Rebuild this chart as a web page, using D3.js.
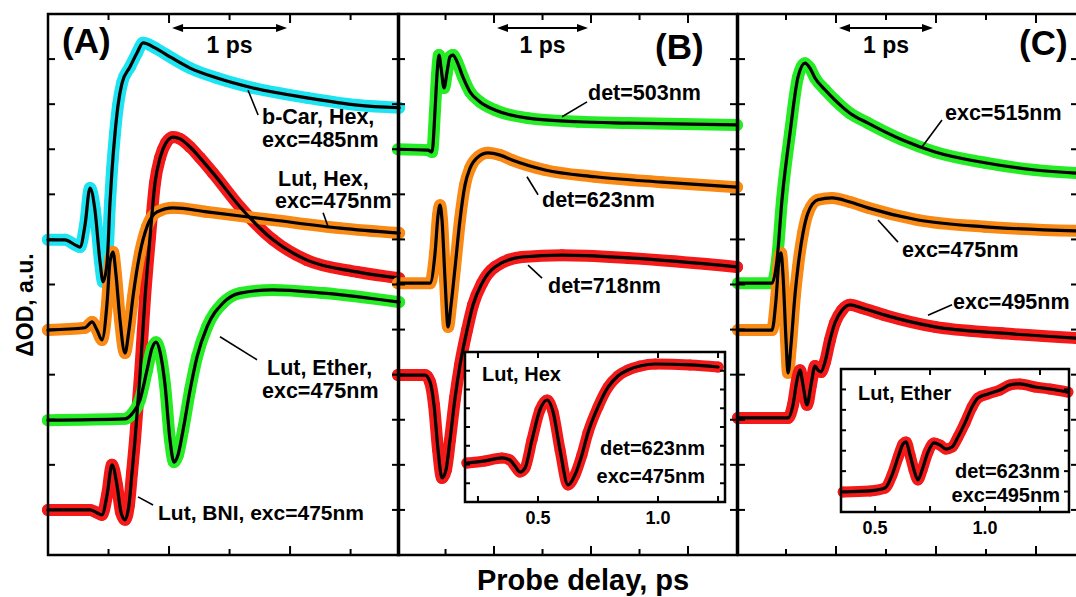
<!DOCTYPE html>
<html><head><meta charset="utf-8">
<script src="https://cdn.jsdelivr.net/npm/d3@7"></script>
<style>
body{margin:0;background:#fff;}
svg{display:block;font-family:"Liberation Sans",Arial,sans-serif;font-weight:bold;}
</style></head><body>
<svg id="chart" width="1076" height="597"></svg>
<script>
// ---------- Panel A (probe delay, ps ; ΔOD offset a.u.) ----------
const aCarT = [-1.0,-0.86,-0.777,-0.736,-0.694,-0.653,-0.612,-0.570,-0.545,-0.512,-0.488,-0.471,-0.446,-0.421,-0.388,-0.322,-0.264,-0.215,-0.116,-0.017,0.174,0.397,0.694,1.140,1.554,1.901];
const aCarY = [6.99,6.99,6.88,6.83,7.32,8.14,7.65,6.50,6.06,6.48,7.81,8.54,9.36,9.98,10.47,10.83,11.14,11.36,11.25,11.09,10.80,10.58,10.36,10.14,9.98,9.92];
const aBniT = [-1.0,-0.653,-0.603,-0.554,-0.512,-0.471,-0.430,-0.397,-0.364,-0.331,-0.306,-0.281,-0.240,-0.198,-0.157,-0.116,-0.074,-0.025,0.033,0.091,0.174,0.256,0.364,0.587,0.860,1.140,1.554,1.901];
const aBniY = [1.00,1.00,0.95,0.89,1.33,2.00,1.55,0.95,0.78,1.11,1.82,2.55,3.99,5.72,7.05,8.25,8.81,9.14,9.27,9.23,9.05,8.81,8.47,7.72,6.99,6.54,6.28,6.14];
const aHexT = [-1.0,-0.694,-0.636,-0.595,-0.554,-0.512,-0.488,-0.463,-0.438,-0.405,-0.364,-0.331,-0.298,-0.240,-0.182,-0.099,0.033,0.314,0.860,1.413,1.901];
const aHexY = [4.99,5.04,5.17,4.99,4.77,5.59,6.50,6.72,6.21,5.21,4.48,4.99,5.72,6.70,7.28,7.61,7.70,7.61,7.43,7.25,7.14];
const aEthT = [-1.0,-0.364,-0.306,-0.240,-0.182,-0.140,-0.107,-0.074,-0.033,0.008,0.041,0.074,0.116,0.174,0.231,0.314,0.446,0.587,0.860,1.273,1.901];
const aEthY = [2.99,3.02,3.13,3.44,4.10,4.59,4.72,4.50,3.77,2.55,2.06,2.22,2.77,3.66,4.39,5.06,5.59,5.81,5.88,5.81,5.61];

// ---------- Panel B ----------
const b503T = [-0.990,-0.680,-0.639,-0.608,-0.588,-0.567,-0.546,-0.515,-0.485,-0.454,-0.423,-0.381,-0.320,-0.247,-0.144,0.010,0.351,0.866,1.381,2.505];
const b503Y = [9.00,8.98,8.94,9.87,10.65,11.09,10.80,10.36,10.71,11.05,11.09,10.94,10.60,10.27,10.05,9.87,9.69,9.61,9.58,9.54];
const b623T = [-0.990,-0.660,-0.608,-0.577,-0.557,-0.536,-0.505,-0.474,-0.443,-0.402,-0.351,-0.299,-0.247,-0.165,-0.062,0.062,0.186,0.526,1.041,1.732,2.505];
const b623Y = [6.03,6.03,6.70,7.54,7.76,7.43,6.10,5.06,5.55,6.37,7.43,8.21,8.58,8.83,8.92,8.87,8.76,8.54,8.39,8.27,8.16];
const b718T = [-0.990,-0.711,-0.660,-0.619,-0.577,-0.536,-0.495,-0.454,-0.402,-0.351,-0.278,-0.216,-0.124,0.010,0.289,0.701,1.381,2.505];
const b718Y = [3.99,3.99,3.84,3.33,2.33,1.71,1.89,2.55,3.48,4.21,4.99,5.55,6.03,6.39,6.61,6.65,6.59,6.39];
// inset B (Lut, Hex, det=623nm, exc=475nm)
const bInsT = [0.204,0.279,0.350,0.383,0.404,0.425,0.446,0.475,0.508,0.538,0.563,0.592,0.625,0.654,0.683,0.708,0.750,0.792,0.833,0.875,0.925,0.988,1.133,1.250];
const bInsY = [2.08,2.19,2.35,2.24,1.92,1.60,1.81,3.31,4.91,5.44,4.80,2.77,0.91,1.44,2.51,3.68,5.07,6.13,6.72,7.04,7.25,7.36,7.31,7.20];

// ---------- Panel C ----------
const c515T = [-0.98,-0.64,-0.59,-0.54,-0.46,-0.38,-0.31,-0.26,-0.21,-0.11,-0.01,0.14,0.32,0.66,0.99,1.49,1.99,2.42];
const c515Y = [6.03,6.03,6.54,7.88,9.36,10.60,10.91,10.80,10.58,10.32,10.09,9.80,9.58,9.21,8.94,8.70,8.54,8.47];
const c475T = [-0.98,-0.64,-0.60,-0.57,-0.55,-0.53,-0.50,-0.48,-0.45,-0.41,-0.38,-0.33,-0.28,-0.18,-0.04,0.14,0.32,0.82,1.49,2.42];
const c475Y = [4.99,4.99,5.66,6.54,6.70,6.21,4.77,4.04,4.66,5.77,6.39,7.14,7.59,7.88,7.92,7.83,7.70,7.43,7.28,7.19];
const c495T = [-0.98,-0.48,-0.43,-0.39,-0.36,-0.33,-0.29,-0.25,-0.21,-0.18,-0.15,-0.11,-0.06,-0.01,0.06,0.14,0.26,0.49,0.99,1.66,2.42];
const c495Y = [3.04,3.04,3.33,3.88,4.10,3.77,3.33,3.77,4.19,4.10,4.06,4.28,4.77,5.15,5.43,5.55,5.48,5.32,5.06,4.92,4.81];
// inset C (Lut, Ether, det=623nm, exc=495nm)
const cInsT = [0.355,0.477,0.545,0.577,0.605,0.627,0.641,0.659,0.677,0.695,0.714,0.741,0.768,0.795,0.823,0.850,0.877,0.909,0.941,0.968,1.014,1.068,1.114,1.159,1.227,1.295,1.377];
const cInsY = [0.98,1.03,1.17,1.81,2.69,3.33,3.43,2.79,2.06,1.57,2.06,2.94,3.38,3.28,3.08,3.18,3.67,4.36,5.14,5.58,5.78,5.97,6.22,6.27,6.12,6.02,5.87];

// labels
const insetTickLabels = [0.5, 1.0];
const xTitle = "Probe delay, ps";
const yTitle = "ΔOD, a.u.";

// ---------- styles ----------
const COL = {cyan:"#1ee4f2", red:"#f41a1a", orange:"#f98a16", green:"#26ec26"};

const svg = d3.select("#chart");
const yMain = d3.scaleLinear().domain([0,12]).range([555,14]);
const panels = [
  {x: d3.scaleLinear().domain([-1.0,1.9]).range([48,399])},
  {x: d3.scaleLinear().domain([-0.99,2.505]).range([398,737])},
  {x: d3.scaleLinear().domain([-0.98,2.42]).range([738,1078])}
];
const line = (xs, ys) => d3.line().x(d => xs(d[0])).y(d => ys(d[1])).curve(d3.curveMonotoneX);
const zip = (T, Y) => T.map((t,i) => [t, Y[i]]);

function drawData(g, xs, ys, T, Y, color, w=12, r=6){
  const pts = zip(T,Y);
  g.append("path").attr("d", line(xs,ys)(pts)).attr("fill","none")
    .attr("stroke",color).attr("stroke-width",w).attr("stroke-linejoin","round").attr("stroke-linecap","round");
  g.selectAll(null).data(pts).enter().append("circle")
    .attr("cx", d => xs(d[0])).attr("cy", d => ys(d[1])).attr("r", r).attr("fill", color);
}
function drawFit(g, xs, ys, T, Y, w=3.2){
  g.append("path").attr("d", line(xs,ys)(zip(T,Y))).attr("fill","none")
    .attr("stroke","#000").attr("stroke-width",w).attr("stroke-linejoin","round").attr("stroke-linecap","round");
}

// ---------- curves ----------
const gA = svg.append("g"), gB = svg.append("g"), gC = svg.append("g");
const xA = panels[0].x, xB = panels[1].x, xC = panels[2].x;

drawData(gA, xA, yMain, aCarT, aCarY, COL.cyan);
drawData(gA, xA, yMain, aBniT, aBniY, COL.red);
drawData(gA, xA, yMain, aHexT, aHexY, COL.orange);
drawData(gA, xA, yMain, aEthT, aEthY, COL.green);
[[aCarT,aCarY],[aBniT,aBniY],[aHexT,aHexY],[aEthT,aEthY]].forEach(s => drawFit(gA, xA, yMain, s[0], s[1]));

drawData(gB, xB, yMain, b503T, b503Y, COL.green);
drawData(gB, xB, yMain, b623T, b623Y, COL.orange);
drawData(gB, xB, yMain, b718T, b718Y, COL.red);
[[b503T,b503Y],[b623T,b623Y],[b718T,b718Y]].forEach(s => drawFit(gB, xB, yMain, s[0], s[1]));

drawData(gC, xC, yMain, c515T, c515Y, COL.green);
drawData(gC, xC, yMain, c475T, c475Y, COL.orange);
drawData(gC, xC, yMain, c495T, c495Y, COL.red);
[[c515T,c515Y],[c475T,c475Y],[c495T,c495Y]].forEach(s => drawFit(gC, xC, yMain, s[0], s[1]));

// ---------- frames and ticks ----------
const fr = svg.append("g");
panels.forEach(p => {
  const [x0,x1] = p.x.range();
  const [d0,d1] = p.x.domain();
  fr.append("rect").attr("x",x0).attr("y",14).attr("width",x1-x0).attr("height",541)
    .attr("fill","none").attr("stroke","#000").attr("stroke-width",2.5);
  const tv = d3.range(Math.ceil(d0*2)/2, d1, 0.5).filter(t => p.x(t) > x0+4 && p.x(t) < x1-4);
  tv.forEach(t => {
    const len = Math.abs(t - Math.round(t)) < 1e-6 ? 9 : 6;
    fr.append("line").attr("x1",p.x(t)).attr("x2",p.x(t)).attr("y1",14).attr("y2",14+len).attr("stroke","#000").attr("stroke-width",2);
    fr.append("line").attr("x1",p.x(t)).attr("x2",p.x(t)).attr("y1",555).attr("y2",555-len).attr("stroke","#000").attr("stroke-width",2);
  });
  d3.range(1,12).forEach(v => {
    fr.append("line").attr("x1",x0).attr("x2",x0+7).attr("y1",yMain(v)).attr("y2",yMain(v)).attr("stroke","#000").attr("stroke-width",2);
    fr.append("line").attr("x1",x1).attr("x2",x1-7).attr("y1",yMain(v)).attr("y2",yMain(v)).attr("stroke","#000").attr("stroke-width",2);
  });
  // 1 ps arrow (0 -> 1 ps)
  const ax0 = p.x(0)+3, ax1 = p.x(1)-3, ay = 28;
  fr.append("line").attr("x1",ax0+6).attr("x2",ax1-6).attr("y1",ay).attr("y2",ay).attr("stroke","#000").attr("stroke-width",2);
  fr.append("path").attr("d",`M${ax0},${ay}L${ax0+11},${ay-4}L${ax0+11},${ay+4}Z`).attr("fill","#000");
  fr.append("path").attr("d",`M${ax1},${ay}L${ax1-11},${ay-4}L${ax1-11},${ay+4}Z`).attr("fill","#000");
  fr.append("text").attr("x",(p.x(0)+p.x(1))/2).attr("y",53).attr("text-anchor","middle").attr("font-size",23).text("1 ps");
});

// ---------- insets ----------
function inset(xs, ys, T, Y, nY){
  const [x0,x1] = xs.range(), [yb,yt] = ys.range();
  const g = svg.append("g");
  g.append("rect").attr("x",x0).attr("y",yt).attr("width",x1-x0).attr("height",yb-yt).attr("fill","#fff");
  drawData(g, xs, ys, T, Y, COL.red, 11, 5.5);
  drawFit(g, xs, ys, T, Y, 3.2);
  g.append("rect").attr("x",x0).attr("y",yt).attr("width",x1-x0).attr("height",yb-yt)
    .attr("fill","none").attr("stroke","#000").attr("stroke-width",2.5);
  const [d0,d1] = xs.domain();
  d3.range(Math.ceil(d0*4)/4, d1, 0.25).filter(t => xs(t) > x0+3 && xs(t) < x1-3).forEach(t => {
    g.append("line").attr("x1",xs(t)).attr("x2",xs(t)).attr("y1",yb).attr("y2",yb-6).attr("stroke","#000").attr("stroke-width",2);
    g.append("line").attr("x1",xs(t)).attr("x2",xs(t)).attr("y1",yt).attr("y2",yt+6).attr("stroke","#000").attr("stroke-width",2);
  });
  d3.range(1,nY).forEach(v => {
    g.append("line").attr("x1",x0).attr("x2",x0+5).attr("y1",ys(v)).attr("y2",ys(v)).attr("stroke","#000").attr("stroke-width",2);
    g.append("line").attr("x1",x1).attr("x2",x1-5).attr("y1",ys(v)).attr("y2",ys(v)).attr("stroke","#000").attr("stroke-width",2);
  });
  insetTickLabels.forEach(t => {
    g.append("text").attr("x",xs(t)).attr("y",yb+22).attr("text-anchor","middle").attr("font-size",18).text(d3.format(".1f")(t));
  });
  return g;
}
const xIB = d3.scaleLinear().domain([0.196,1.279]).range([465,725]);
const yIB = d3.scaleLinear().domain([0,8]).range([502,352]);
const gIB = inset(xIB, yIB, bInsT, bInsY, 8);
const xIC = d3.scaleLinear().domain([0.345,1.382]).range([841,1069]);
const yIC = d3.scaleLinear().domain([0,7]).range([512,369]);
const gIC = inset(xIC, yIC, cInsT, cInsY, 7);

function txt(g, x, y, s, size, anchor="start"){
  g.append("text").attr("x",x).attr("y",y).attr("font-size",size).attr("text-anchor",anchor).text(s);
}
txt(gIB, 482, 381, "Lut, Hex", 20);
txt(gIB, 705, 455, "det=623nm", 20, "end");
txt(gIB, 705, 483, "exc=475nm", 20, "end");
txt(gIC, 858, 400, "Lut, Ether", 20);
txt(gIC, 1060, 478, "det=623nm", 20, "end");
txt(gIC, 1060, 502, "exc=495nm", 20, "end");

// ---------- annotations ----------
const ann = svg.append("g");
function leader(xs, t1, v1, t2, v2){
  ann.append("line").attr("x1",xs(t1)).attr("y1",yMain(v1)).attr("x2",xs(t2)).attr("y2",yMain(v2)).attr("stroke","#000").attr("stroke-width",1.6);
}
leader(xA, 0.653,10.31, 0.736,9.76);
leader(xA, 1.273,7.59, 1.314,7.28);
leader(xA, 0.421,4.84, 0.727,4.33);
leader(xA, -0.256,1.29, -0.132,1.11);
leader(xB, 0.701,9.72, 0.959,10.05);
leader(xB, 0.340,8.39, 0.454,7.99);
leader(xB, 0.351,6.43, 0.495,6.14);
leader(xC, 0.86,9.05, 1.06,9.65);
leader(xC, 0.42,7.43, 0.62,6.94);
leader(xC, 0.92,5.32, 1.16,5.55);

txt(ann, 262, 124, "b-Car, Hex,", 21.5);
txt(ann, 262, 147, "exc=485nm", 21.5);
txt(ann, 278, 186, "Lut, Hex,", 21.5);
txt(ann, 275, 208, "exc=475nm", 21.5);
txt(ann, 267, 375, "Lut, Ether,", 21.5);
txt(ann, 262, 398, "exc=475nm", 21.5);
txt(ann, 158, 520, "Lut, BNI, exc=475nm", 21);
txt(ann, 588, 100, "det=503nm", 21.5);
txt(ann, 542, 207, "det=623nm", 21.5);
txt(ann, 548, 293, "det=718nm", 21.5);
txt(ann, 945, 120, "exc=515nm", 21.5);
txt(ann, 902, 257, "exc=475nm", 21.5);
txt(ann, 953, 309, "exc=495nm", 21.5);

txt(ann, 62, 53, "(A)", 35);
txt(ann, 655, 59, "(B)", 35);
txt(ann, 1019, 55, "(C)", 35);

// axis titles
ann.append("text").attr("transform","translate(33,305) rotate(-90)").attr("text-anchor","middle").attr("font-size",23).text(yTitle);
txt(ann, 583, 590, xTitle, 29, "middle");
</script>
</body></html>
